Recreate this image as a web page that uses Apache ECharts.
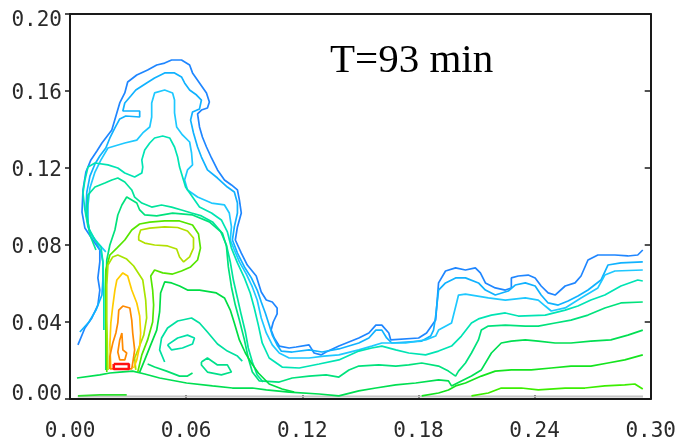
<!DOCTYPE html>
<html>
<head>
<meta charset="utf-8">
<script src="https://cdn.jsdelivr.net/npm/echarts@6/dist/echarts.min.js"></script>
<style>
  html, body { margin: 0; padding: 0; background: #fff; }
  #chart { width: 679px; height: 446px; }
</style>
</head>
<body>
<div id="chart"></div>
<script>
// Axis ranges and tick spacing (x and y in metres)
const xRange = [0, 0.30];
const yRange = [0, 0.20];
const xStep = 0.06;
const yStep = 0.04;
const timeLabel = 'T=93 min';

// Contour polylines, [x, y] pairs, outermost level first
const contourL1 = [[0.0041,0.0281],[0.0077,0.0369],[0.0113,0.0421],[0.0144,0.0488],[0.0154,0.0566],[0.0144,0.0629],[0.0154,0.0712],[0.0154,0.0774],[0.0118,0.0826],[0.0077,0.0888],[0.0062,0.0971],[0.0067,0.1086],[0.0082,0.1179],[0.0108,0.1242],[0.0139,0.1288],[0.0165,0.1330],[0.0216,0.1397],[0.0257,0.1538],[0.0283,0.1590],[0.0298,0.1647],[0.0345,0.1683],[0.0401,0.1709],[0.0448,0.1735],[0.0489,0.1745],[0.0525,0.1761],[0.0576,0.1761],[0.0618,0.1735],[0.0633,0.1694],[0.0669,0.1642],[0.0705,0.1590],[0.0720,0.1543],[0.0710,0.1512],[0.0679,0.1501],[0.0659,0.1481],[0.0669,0.1413],[0.0684,0.1361],[0.0705,0.1309],[0.0731,0.1252],[0.0762,0.1190],[0.0798,0.1138],[0.0834,0.1112],[0.0865,0.1086],[0.0875,0.1034],[0.0885,0.0966],[0.0865,0.0894],[0.0854,0.0826],[0.0885,0.0758],[0.0916,0.0696],[0.0962,0.0639],[0.0988,0.0556],[0.1014,0.0514],[0.1045,0.0504],[0.1070,0.0473],[0.1070,0.0442],[0.1050,0.0400],[0.1039,0.0358],[0.1055,0.0317],[0.1081,0.0275],[0.1132,0.0265],[0.1168,0.0270],[0.1235,0.0281],[0.1261,0.0239],[0.1297,0.0229],[0.1323,0.0244],[0.1389,0.0275],[0.1492,0.0317],[0.1544,0.0343],[0.1580,0.0384],[0.1611,0.0384],[0.1647,0.0343],[0.1657,0.0307],[0.1801,0.0317],[0.1842,0.0343],[0.1889,0.0410],[0.1904,0.0603],[0.1940,0.0665],[0.1992,0.0681],[0.2043,0.0670],[0.2094,0.0681],[0.2120,0.0655],[0.2146,0.0603],[0.2197,0.0577],[0.2249,0.0566],[0.2280,0.0577],[0.2280,0.0629],[0.2316,0.0639],[0.2367,0.0644],[0.2403,0.0629],[0.2434,0.0587],[0.2470,0.0551],[0.2506,0.0540],[0.2558,0.0587],[0.2609,0.0603],[0.2640,0.0639],[0.2676,0.0722],[0.2727,0.0748],[0.2815,0.0748],[0.2882,0.0743],[0.2933,0.0748],[0.2959,0.0774]];

const contourL2 = [[0.0051,0.0348],[0.0098,0.0400],[0.0134,0.0462],[0.0165,0.0540],[0.0170,0.0618],[0.0170,0.0712],[0.0160,0.0764],[0.0134,0.0816],[0.0098,0.0878],[0.0082,0.0971],[0.0087,0.1075],[0.0103,0.1158],[0.0129,0.1221],[0.0154,0.1262],[0.0185,0.1304],[0.0206,0.1356],[0.0232,0.1408],[0.0257,0.1455],[0.0288,0.1470],[0.0360,0.1465],[0.0360,0.1496],[0.0273,0.1496],[0.0283,0.1538],[0.0314,0.1574],[0.0340,0.1605],[0.0396,0.1642],[0.0437,0.1668],[0.0489,0.1694],[0.0540,0.1694],[0.0576,0.1673],[0.0592,0.1642],[0.0618,0.1605],[0.0654,0.1579],[0.0679,0.1553],[0.0669,0.1507],[0.0633,0.1491],[0.0623,0.1449],[0.0638,0.1382],[0.0659,0.1309],[0.0679,0.1257],[0.0710,0.1190],[0.0762,0.1148],[0.0813,0.1101],[0.0849,0.1075],[0.0865,0.1018],[0.0865,0.0966],[0.0849,0.0894],[0.0839,0.0826],[0.0865,0.0758],[0.0901,0.0686],[0.0937,0.0629],[0.0967,0.0566],[0.0988,0.0504],[0.1009,0.0447],[0.1029,0.0384],[0.1045,0.0332],[0.1070,0.0281],[0.1091,0.0249],[0.1148,0.0244],[0.1235,0.0255],[0.1302,0.0244],[0.1389,0.0260],[0.1492,0.0291],[0.1544,0.0317],[0.1580,0.0358],[0.1611,0.0358],[0.1636,0.0317],[0.1662,0.0291],[0.1817,0.0301],[0.1863,0.0327],[0.1878,0.0358],[0.1889,0.0431],[0.1904,0.0566],[0.1940,0.0603],[0.1992,0.0629],[0.2043,0.0629],[0.2110,0.0603],[0.2146,0.0566],[0.2197,0.0540],[0.2264,0.0561],[0.2300,0.0592],[0.2352,0.0603],[0.2403,0.0587],[0.2434,0.0540],[0.2470,0.0499],[0.2522,0.0488],[0.2573,0.0509],[0.2624,0.0535],[0.2676,0.0566],[0.2743,0.0618],[0.2779,0.0696],[0.2846,0.0707],[0.2959,0.0712]];

const contourL3 = [[0.0185,0.0764],[0.0144,0.0810],[0.0103,0.0862],[0.0093,0.0919],[0.0093,0.1008],[0.0103,0.1096],[0.0129,0.1179],[0.0160,0.1242],[0.0196,0.1304],[0.0283,0.1330],[0.0345,0.1345],[0.0376,0.1382],[0.0412,0.1413],[0.0422,0.1465],[0.0422,0.1538],[0.0437,0.1590],[0.0489,0.1605],[0.0530,0.1590],[0.0540,0.1553],[0.0540,0.1486],[0.0551,0.1413],[0.0581,0.1372],[0.0618,0.1335],[0.0628,0.1278],[0.0633,0.1216],[0.0607,0.1190],[0.0592,0.1138],[0.0607,0.1086],[0.0659,0.1049],[0.0731,0.1018],[0.0798,0.1008],[0.0823,0.0966],[0.0834,0.0894],[0.0828,0.0826],[0.0849,0.0774],[0.0875,0.0712],[0.0911,0.0649],[0.0942,0.0582],[0.0967,0.0514],[0.0988,0.0421],[0.1014,0.0343],[0.1045,0.0281],[0.1081,0.0239],[0.1132,0.0213],[0.1235,0.0213],[0.1312,0.0223],[0.1389,0.0229],[0.1492,0.0255],[0.1559,0.0275],[0.1611,0.0291],[0.1734,0.0291],[0.1837,0.0307],[0.1889,0.0327],[0.1904,0.0358],[0.1971,0.0395],[0.1997,0.0499],[0.2007,0.0540],[0.2043,0.0545],[0.2161,0.0525],[0.2249,0.0514],[0.2352,0.0525],[0.2419,0.0514],[0.2455,0.0483],[0.2486,0.0457],[0.2558,0.0473],[0.2640,0.0525],[0.2727,0.0577],[0.2763,0.0644],[0.2815,0.0665],[0.2959,0.0670]];

const contourL4 = [[0.0175,0.0358],[0.0175,0.0566],[0.0170,0.0712],[0.0160,0.0790],[0.0129,0.0826],[0.0093,0.0894],[0.0077,0.0982],[0.0067,0.1070],[0.0077,0.1138],[0.0093,0.1205],[0.0129,0.1226],[0.0196,0.1216],[0.0247,0.1200],[0.0283,0.1174],[0.0334,0.1153],[0.0371,0.1174],[0.0376,0.1205],[0.0371,0.1242],[0.0386,0.1294],[0.0412,0.1330],[0.0437,0.1356],[0.0479,0.1366],[0.0515,0.1356],[0.0540,0.1309],[0.0556,0.1257],[0.0566,0.1205],[0.0597,0.1101],[0.0633,0.1049],[0.0669,0.0997],[0.0731,0.0966],[0.0782,0.0930],[0.0813,0.0868],[0.0834,0.0784],[0.0865,0.0707],[0.0901,0.0629],[0.0931,0.0551],[0.0952,0.0473],[0.0973,0.0384],[0.0993,0.0291],[0.1029,0.0213],[0.1096,0.0166],[0.1184,0.0161],[0.1287,0.0182],[0.1389,0.0203],[0.1492,0.0249],[0.1559,0.0265],[0.1611,0.0275],[0.1683,0.0255],[0.1750,0.0239],[0.1837,0.0229],[0.1904,0.0249],[0.1971,0.0275],[0.2022,0.0327],[0.2074,0.0395],[0.2110,0.0416],[0.2177,0.0436],[0.2249,0.0447],[0.2316,0.0431],[0.2455,0.0436],[0.2558,0.0462],[0.2624,0.0483],[0.2691,0.0514],[0.2763,0.0540],[0.2846,0.0587],[0.2933,0.0618],[0.2959,0.0613]];

const contourL4b = [[0.0134,0.0774],[0.0103,0.0852],[0.0087,0.0956],[0.0093,0.1060],[0.0129,0.1101],[0.0180,0.1122],[0.0216,0.1138],[0.0247,0.1148],[0.0283,0.1127],[0.0319,0.1086],[0.0334,0.1049],[0.0371,0.1018],[0.0422,0.0997],[0.0473,0.1008],[0.0525,0.0997],[0.0576,0.0982],[0.0628,0.0966],[0.0679,0.0951],[0.0736,0.0920],[0.0777,0.0873],[0.0808,0.0800],[0.0828,0.0712],[0.0844,0.0618],[0.0865,0.0525],[0.0885,0.0436],[0.0906,0.0348],[0.0921,0.0265],[0.0942,0.0192],[0.0967,0.0125],[0.0998,0.0088]];

const contourL5 = [[0.0185,0.0151],[0.0185,0.0514],[0.0190,0.0722],[0.0206,0.0800],[0.0232,0.0878],[0.0247,0.0956],[0.0268,0.1008],[0.0293,0.1049],[0.0345,0.1018],[0.0360,0.0982],[0.0386,0.0956],[0.0448,0.0951],[0.0530,0.0966],[0.0633,0.0956],[0.0720,0.0920],[0.0787,0.0862],[0.0808,0.0795],[0.0818,0.0686],[0.0834,0.0582],[0.0854,0.0488],[0.0875,0.0410],[0.0901,0.0307],[0.0921,0.0213],[0.0942,0.0140],[0.0978,0.0094],[0.1081,0.0088],[0.1148,0.0109],[0.1235,0.0119],[0.1323,0.0125],[0.1389,0.0114],[0.1441,0.0151],[0.1492,0.0171],[0.1595,0.0177],[0.1683,0.0171],[0.1750,0.0177],[0.1817,0.0187],[0.1904,0.0171],[0.1955,0.0145],[0.1992,0.0119],[0.2007,0.0145],[0.2043,0.0187],[0.2074,0.0239],[0.2110,0.0307],[0.2125,0.0358],[0.2161,0.0379],[0.2249,0.0384],[0.2352,0.0379],[0.2419,0.0379],[0.2506,0.0395],[0.2588,0.0410],[0.2676,0.0436],[0.2763,0.0473],[0.2846,0.0499],[0.2959,0.0504]];

const contourL6 = [[0.0036,0.0109],[0.0154,0.0125],[0.0206,0.0135],[0.0257,0.0140],[0.0324,0.0145],[0.0386,0.0130],[0.0463,0.0109],[0.0602,0.0083],[0.0736,0.0068],[0.0839,0.0057],[0.0942,0.0057],[0.1014,0.0047],[0.1132,0.0036],[0.1287,0.0026],[0.1389,0.0016],[0.1492,0.0042],[0.1580,0.0057],[0.1683,0.0073],[0.1786,0.0083],[0.1904,0.0099],[0.1955,0.0094],[0.1971,0.0068],[0.2022,0.0094],[0.2074,0.0119],[0.2125,0.0151],[0.2177,0.0239],[0.2228,0.0291],[0.2280,0.0301],[0.2352,0.0307],[0.2419,0.0301],[0.2506,0.0291],[0.2588,0.0291],[0.2691,0.0301],[0.2794,0.0307],[0.2882,0.0332],[0.2959,0.0358]];

const contourL7 = [[0.1817,0.0016],[0.1904,0.0031],[0.1955,0.0047],[0.1992,0.0068],[0.2043,0.0083],[0.2125,0.0119],[0.2197,0.0145],[0.2280,0.0151],[0.2383,0.0151],[0.2486,0.0161],[0.2588,0.0171],[0.2691,0.0171],[0.2779,0.0187],[0.2866,0.0203],[0.2959,0.0229]];

const contourL8 = [[0.2074,0.0016],[0.2161,0.0031],[0.2228,0.0057],[0.2331,0.0057],[0.2419,0.0047],[0.2558,0.0057],[0.2660,0.0057],[0.2763,0.0068],[0.2866,0.0073],[0.2918,0.0078],[0.2959,0.0052]];

const contourFloor = [[0.0041,0.0016],[0.0154,0.0021],[0.0293,0.0021]];

// Plume core: inner levels around the source
const contourShell = [[0.0190,0.0140],[0.0185,0.0410],[0.0185,0.0670],[0.0206,0.0748],[0.0242,0.0784],[0.0283,0.0826],[0.0319,0.0878],[0.0360,0.0909],[0.0412,0.0919],[0.0489,0.0925],[0.0566,0.0925],[0.0633,0.0904],[0.0664,0.0857],[0.0674,0.0784],[0.0659,0.0722],[0.0623,0.0686],[0.0576,0.0665],[0.0530,0.0649],[0.0479,0.0655],[0.0437,0.0670],[0.0417,0.0639],[0.0427,0.0566],[0.0432,0.0488],[0.0427,0.0400],[0.0401,0.0307],[0.0371,0.0229],[0.0350,0.0140]];

const contourLobe = [[0.0355,0.0847],[0.0365,0.0878],[0.0412,0.0888],[0.0489,0.0894],[0.0556,0.0891],[0.0607,0.0873],[0.0638,0.0836],[0.0638,0.0784],[0.0618,0.0738],[0.0587,0.0712],[0.0566,0.0738],[0.0551,0.0779],[0.0504,0.0795],[0.0437,0.0800],[0.0386,0.0810],[0.0355,0.0826],[0.0355,0.0847]];

const contourCoreOuter = [[0.0196,0.0151],[0.0190,0.0410],[0.0190,0.0592],[0.0196,0.0696],[0.0221,0.0738],[0.0247,0.0748],[0.0293,0.0727],[0.0329,0.0691],[0.0376,0.0618],[0.0391,0.0514],[0.0396,0.0421],[0.0381,0.0332],[0.0355,0.0265],[0.0334,0.0213],[0.0340,0.0151]];

const contourYellow = [[0.0211,0.0156],[0.0206,0.0281],[0.0211,0.0395],[0.0221,0.0483],[0.0232,0.0566],[0.0242,0.0618],[0.0273,0.0655],[0.0298,0.0639],[0.0319,0.0566],[0.0345,0.0499],[0.0360,0.0431],[0.0365,0.0343],[0.0360,0.0275],[0.0345,0.0203],[0.0329,0.0161]];

const contourOrange = [[0.0206,0.0156],[0.0206,0.0223],[0.0221,0.0291],[0.0237,0.0343],[0.0247,0.0395],[0.0252,0.0462],[0.0273,0.0483],[0.0309,0.0473],[0.0319,0.0410],[0.0324,0.0343],[0.0334,0.0255],[0.0324,0.0187],[0.0319,0.0156],[0.0206,0.0156]];

const contourOrangeInner = [[0.0268,0.0343],[0.0273,0.0255],[0.0293,0.0239],[0.0283,0.0203],[0.0257,0.0203],[0.0247,0.0244],[0.0257,0.0307],[0.0268,0.0343]];

const contourRed = [[0.0226,0.0182],[0.0304,0.0182],[0.0304,0.0156],[0.0226,0.0156],[0.0226,0.0182]];

// Lower wake between the plume and the bed
const contourWake = [[0.0360,0.0140],[0.0386,0.0203],[0.0417,0.0281],[0.0448,0.0358],[0.0463,0.0452],[0.0468,0.0551],[0.0489,0.0608],[0.0525,0.0603],[0.0566,0.0587],[0.0607,0.0566],[0.0669,0.0566],[0.0756,0.0551],[0.0798,0.0525],[0.0828,0.0462],[0.0849,0.0395],[0.0875,0.0307],[0.0906,0.0239],[0.0937,0.0187],[0.0973,0.0135],[0.1029,0.0078],[0.1096,0.0052],[0.1158,0.0036]];

const contourValley = [[0.0489,0.0192],[0.0463,0.0255],[0.0473,0.0317],[0.0504,0.0369],[0.0556,0.0405],[0.0628,0.0421],[0.0669,0.0395],[0.0710,0.0348],[0.0762,0.0286],[0.0813,0.0249],[0.0865,0.0223],[0.0890,0.0197]];

const contourPocket = [[0.0679,0.0192],[0.0710,0.0213],[0.0762,0.0177],[0.0813,0.0177],[0.0834,0.0140],[0.0782,0.0125],[0.0710,0.0140],[0.0679,0.0177],[0.0679,0.0192]];

const contourBedWave = [[0.0401,0.0182],[0.0437,0.0166],[0.0499,0.0145],[0.0566,0.0119],[0.0607,0.0119],[0.0633,0.0135]];

const contourEddy = [[0.0504,0.0281],[0.0556,0.0317],[0.0607,0.0332],[0.0643,0.0317],[0.0633,0.0286],[0.0581,0.0265],[0.0525,0.0255],[0.0504,0.0281]];

// Level colours (jet-like scale)
const levelColors = {
  L1: '#1f86ff', L2: '#10b2ff', L3: '#1ec8ff', L4: '#00e4b4', L4b: '#00e49c',
  L5: '#00e27c', L6: '#00df52', L7: '#14e41e', L8: '#3cee00',
  shell: '#55e600', lobe: '#b2e000', coreOuter: '#a8e400', yellow: '#ffcc00',
  orange: '#ff8a00', red: '#ff1010', wake: '#00dd44', valley: '#00e0a0',
  pocket: '#00e08a', bedWave: '#00e070', eddy: '#00e0a8', floor: '#2ee02e'
};

const contourSet = [
  ['L1', contourL1], ['L2', contourL2], ['L3', contourL3], ['L4', contourL4],
  ['L4b', contourL4b], ['L5', contourL5], ['L6', contourL6], ['L7', contourL7],
  ['L8', contourL8], ['floor', contourFloor], ['wake', contourWake],
  ['valley', contourValley], ['pocket', contourPocket], ['bedWave', contourBedWave],
  ['eddy', contourEddy], ['shell', contourShell], ['lobe', contourLobe],
  ['coreOuter', contourCoreOuter], ['yellow', contourYellow],
  ['orange', contourOrange], ['orangeInner', contourOrangeInner], ['red', contourRed]
];

const chart = echarts.init(document.getElementById('chart'), null, { renderer: 'canvas' });

const series = [{
  // faint grey trace just above the bed
  type: 'line',
  data: [[xRange[0] + 0.004, 0.0013], [0.296, 0.0013]],
  showSymbol: false,
  silent: true,
  lineStyle: { color: '#c4c4c4', width: 2 },
  z: 1
}];
contourSet.forEach(([key, pts]) => {
  const colorKey = key === 'orangeInner' ? 'orange' : key;
  series.push({
    type: 'line',
    name: key,
    data: pts,
    showSymbol: false,
    silent: true,
    smooth: false,
    lineStyle: { color: levelColors[colorKey], width: key === 'red' ? 2.6 : 1.7 },
    z: 2
  });
});

const tickFont = { fontFamily: 'DejaVu Sans Mono', fontSize: 21, color: '#2a2a2a' };
const frameLine = { show: true, onZero: false, lineStyle: { color: '#1a1a1a', width: 2 } };

// y labels sit a little below their ticks; the end labels are kept inside the frame
const yLabelRich = {
  top: Object.assign({ padding: [14, 0, 0, 0] }, tickFont),
  mid: Object.assign({ padding: [5, 0, 0, 0] }, tickFont),
  low: Object.assign({ padding: [0, 0, 9, 0] }, tickFont)
};
function yLabel(v) {
  const key = v >= yRange[1] - 1e-9 ? 'top' : (v <= yRange[0] + 1e-9 ? 'low' : 'mid');
  return '{' + key + '|' + v.toFixed(2) + '}';
}

chart.setOption({
  animation: false,
  backgroundColor: '#ffffff',
  title: {
    text: timeLabel,
    left: 325,
    top: 36,
    textStyle: { fontFamily: 'Liberation Serif', fontSize: 41, fontWeight: 'normal', color: '#000' }
  },
  grid: { left: 70, right: 26, top: 14, bottom: 47, containLabel: false },
  xAxis: [{
    type: 'value', min: xRange[0], max: xRange[1], interval: xStep,
    axisLine: frameLine,
    axisTick: { show: true, inside: true, length: 4, lineStyle: { color: '#1a1a1a', width: 1.5 } },
    axisLabel: Object.assign({ margin: 22, formatter: v => v.toFixed(2) }, tickFont),
    splitLine: { show: false }
  }, {
    type: 'value', position: 'top', min: xRange[0], max: xRange[1], interval: xStep,
    axisLine: frameLine,
    axisTick: { show: false },
    axisLabel: { show: false },
    splitLine: { show: false }
  }],
  yAxis: [{
    type: 'value', min: yRange[0], max: yRange[1], interval: yStep,
    axisLine: frameLine,
    axisTick: { show: true, inside: false, length: 5, lineStyle: { color: '#1a1a1a', width: 1.5 } },
    axisLabel: Object.assign({ margin: 8, formatter: yLabel, rich: yLabelRich }, tickFont),
    splitLine: { show: false }
  }, {
    type: 'value', position: 'right', min: yRange[0], max: yRange[1], interval: yStep,
    axisLine: frameLine,
    axisTick: { show: true, inside: true, length: 6, lineStyle: { color: '#1a1a1a', width: 1.5 } },
    axisLabel: { show: false },
    splitLine: { show: false }
  }],
  series: series
});
</script>
</body>
</html>
